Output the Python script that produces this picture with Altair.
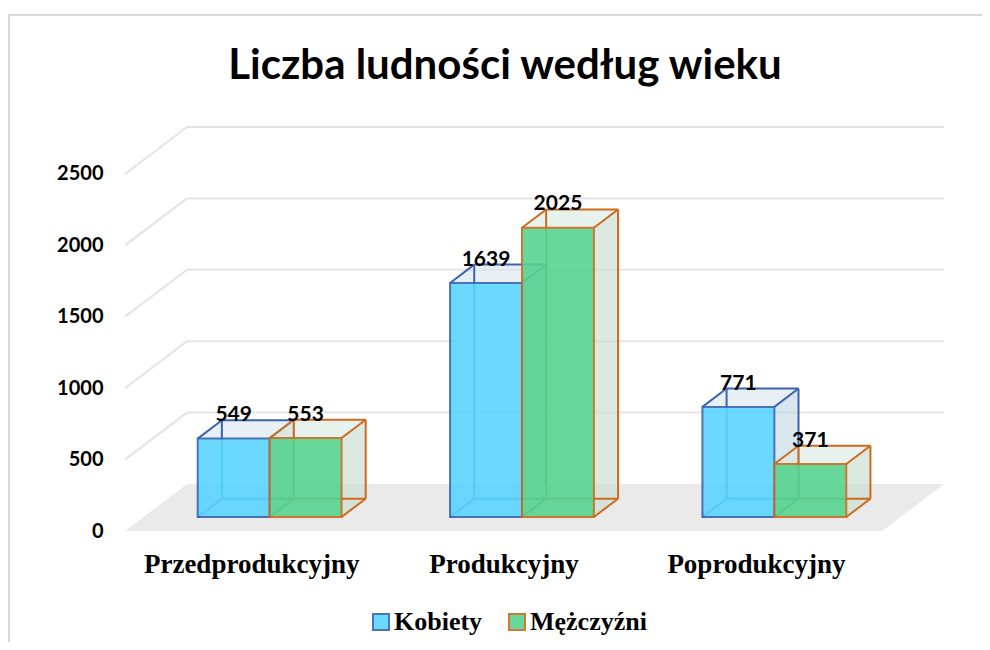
import altair as alt
import pandas as pd

# ---------------- data ----------------
categories = ["Przedprodukcyjny", "Produkcyjny", "Poprodukcyjny"]
series_names = ["Kobiety", "Mężczyźni"]
kobiety = [549, 1639, 771]
mezczyzni = [553, 2025, 371]
y_ticks = [0, 500, 1000, 1500, 2000, 2500]
title_text = "Liczba ludności według wieku"

# ---------------- style (3D geometry & colours) ----------------
WALL_DX = 0.2454      # back-wall shift, category units
WALL_DY = 329         # back-wall shift, value units
Y_TOP = 2500
BAR_W = 0.285
FRONT_FRAC = 0.298
DEPTH_FRAC = 0.39

FRONT_FILL = ["#5AD4FF", "#57D490"]
EDGE_COL = ["#3A64B0", "#CC6A1E"]
SIDE_FILL = ["#C6D8E5", "#C8DDD0"]
TOP_FILL = ["#DCE8F0", "#DCEBE2"]
GRID_COL = "#E4E4E4"
FLOOR_COL = "#EAEAEA"

SANS = "Lato"
SERIF = "Liberation Serif"

# ---------------- geometry tables built from the data ----------------
all_vals = [kobiety, mezczyzni]
fx = FRONT_FRAC * WALL_DX
fy = FRONT_FRAC * WALL_DY
ddx = DEPTH_FRAC * WALL_DX
ddy = DEPTH_FRAC * WALL_DY

front, side, top, edges, labels = [], [], [], [], []
for s, name in enumerate(series_names):
    for i, cat in enumerate(categories):
        v = all_vals[s][i]
        box = f"{name}-{i}"
        x0 = i + fx - (BAR_W if s == 0 else 0.0)
        x1 = x0 + BAR_W
        y0 = fy
        y1 = fy + v
        front.append(dict(series=name, box=box, x=x0, x2=x1, y=y0, y2=y1))
        side.append(dict(series=name, box=box, x=x1, y=y0, y2=y1))
        side.append(dict(series=name, box=box, x=x1 + ddx, y=y0 + ddy, y2=y1 + ddy))
        top.append(dict(series=name, box=box, y=y1, x=x0, x2=x1))
        top.append(dict(series=name, box=box, y=y1 + ddy, x=x0 + ddx, x2=x1 + ddx))
        bx0, bx1, by0, by1 = x0 + ddx, x1 + ddx, y0 + ddy, y1 + ddy
        segs = [
            (bx0, by0, bx1, by0), (bx0, by1, bx1, by1),
            (bx0, by0, bx0, by1), (bx1, by0, bx1, by1),
            (x0, y0, bx0, by0), (x1, y0, bx1, by0),
            (x0, y1, bx0, by1), (x1, y1, bx1, by1),
        ]
        for (a, b, c, d) in segs:
            edges.append(dict(series=name, x=a, y=b, x2=c, y2=d))
        labels.append(dict(series=name, x=(x0 + x1) / 2, y=by1, label=str(v)))

df_front = pd.DataFrame(front)
df_side = pd.DataFrame(side)
df_top = pd.DataFrame(top)
df_edges = pd.DataFrame(edges)
df_labels = pd.DataFrame(labels)

x_lo, x_hi = -0.5, len(categories) - 0.5
df_floor = pd.DataFrame([
    dict(y=0, x=x_lo, x2=x_hi),
    dict(y=WALL_DY, x=x_lo + WALL_DX, x2=x_hi + WALL_DX),
])
grid = []
for v in y_ticks[1:]:
    grid.append(dict(x=x_lo + WALL_DX, x2=x_hi + WALL_DX, y=v + WALL_DY, y2=v + WALL_DY))
    grid.append(dict(x=x_lo, x2=x_lo + WALL_DX, y=v, y2=v + WALL_DY))
df_grid = pd.DataFrame(grid)

# ---------------- scales / axes ----------------
xscale = alt.Scale(domain=[x_lo, x_hi + WALL_DX], nice=False, zero=False)
yscale = alt.Scale(domain=[0, Y_TOP + WALL_DY], nice=False, zero=False)

label_expr = "[" + ",".join(f"'{c}'" for c in categories) + "][datum.value]"
x_axis = alt.Axis(
    values=list(range(len(categories))), labelExpr=label_expr, title=None,
    domain=False, ticks=False, tickSize=0, grid=False,
    labelFont=SERIF, labelFontWeight="bold", labelFontSize=27, labelColor="black",
    labelPadding=41, labelBaseline="alphabetic", labelAngle=0, labelFlush=False,
    labelOverlap=False, labelLimit=0,
)
y_axis = alt.Axis(
    values=y_ticks, format="d", title=None, domain=False, ticks=False, tickSize=0,
    grid=False, labelFont=SANS, labelFontWeight="bold", labelFontSize=20,
    labelColor="black", labelPadding=22, labelBaseline="middle",
    labelOverlap=False, labelFlush=False,
)


def X():
    return alt.X("x:Q", scale=xscale, axis=x_axis, title=None)


def Y():
    return alt.Y("y:Q", scale=yscale, axis=y_axis, title=None)


legend = alt.Legend(
    orient="none", legendX=243, legendY=482, direction="horizontal", title=None,
    symbolType="square", symbolSize=256, symbolStrokeWidth=2,
    labelFont=SERIF, labelFontWeight="bold", labelFontSize=26, labelColor="black",
    labelOffset=0, columnPadding=21, padding=0, labelLimit=0,
)
fill_enc = alt.Fill("series:N", scale=alt.Scale(domain=series_names, range=FRONT_FILL),
                    legend=legend)
stroke_enc = alt.Stroke("series:N", scale=alt.Scale(domain=series_names, range=EDGE_COL),
                        legend=legend)

# ---------------- layers ----------------
floor = alt.Chart(df_floor).mark_area(orient="horizontal", color=FLOOR_COL).encode(
    y=Y(), x=X(), x2="x2:Q"
)
gridlines = alt.Chart(df_grid).mark_rule(color=GRID_COL, strokeWidth=2).encode(
    x=X(), x2="x2:Q", y=Y(), y2="y2:Q"
)

layers = [floor, gridlines]
for s, name in enumerate(series_names):
    flt = alt.datum.series == name
    layers.append(
        alt.Chart(df_side).transform_filter(flt)
        .mark_area(orient="vertical", color=SIDE_FILL[s], opacity=0.65)
        .encode(x=X(), y=Y(), y2="y2:Q", detail="box:N")
    )
    layers.append(
        alt.Chart(df_top).transform_filter(flt)
        .mark_area(orient="horizontal", color=TOP_FILL[s], opacity=0.65)
        .encode(y=Y(), x=X(), x2="x2:Q", detail="box:N")
    )
    layers.append(
        alt.Chart(df_edges).transform_filter(flt)
        .mark_rule(color=EDGE_COL[s], strokeWidth=2)
        .encode(x=X(), x2="x2:Q", y=Y(), y2="y2:Q")
    )
    layers.append(
        alt.Chart(df_front).transform_filter(flt)
        .mark_rect(strokeWidth=2, opacity=0.9)
        .encode(x=X(), x2="x2:Q", y=Y(), y2="y2:Q", fill=fill_enc, stroke=stroke_enc)
    )

value_labels = alt.Chart(df_labels).mark_text(
    font=SANS, fontWeight="bold", fontSize=21, color="black",
    baseline="alphabetic", align="center", dy=1,
).encode(x=X(), y=Y(), text="label:N")

title = alt.Chart(pd.DataFrame({"t": [title_text]})).mark_text(
    font=SANS, fontWeight="bold", fontSize=42, color="black",
    baseline="alphabetic", align="center",
).encode(x=alt.value(380), y=alt.value(-48), text="t:N")

border_df = pd.DataFrame({"k": [0]})
border_left = alt.Chart(border_df).mark_rule(color="#D9D9D9", strokeWidth=2).encode(
    x=alt.value(-116), y=alt.value(-112), y2=alt.value(515)
)
border_top = alt.Chart(border_df).mark_rule(color="#D9D9D9", strokeWidth=2).encode(
    x=alt.value(-117), x2=alt.value(857), y=alt.value(-112)
)

layers += [value_labels, title, border_left, border_top]

chart = alt.layer(*layers).properties(
    width=819, height=404,
    autosize=alt.AutoSizeParams(type="none"),
    padding={"left": 117, "top": 119, "right": 38, "bottom": 111},
    background="white",
).configure_view(stroke=None)

chart.save("out.html", embed_options={"renderer": "svg", "actions": False})
